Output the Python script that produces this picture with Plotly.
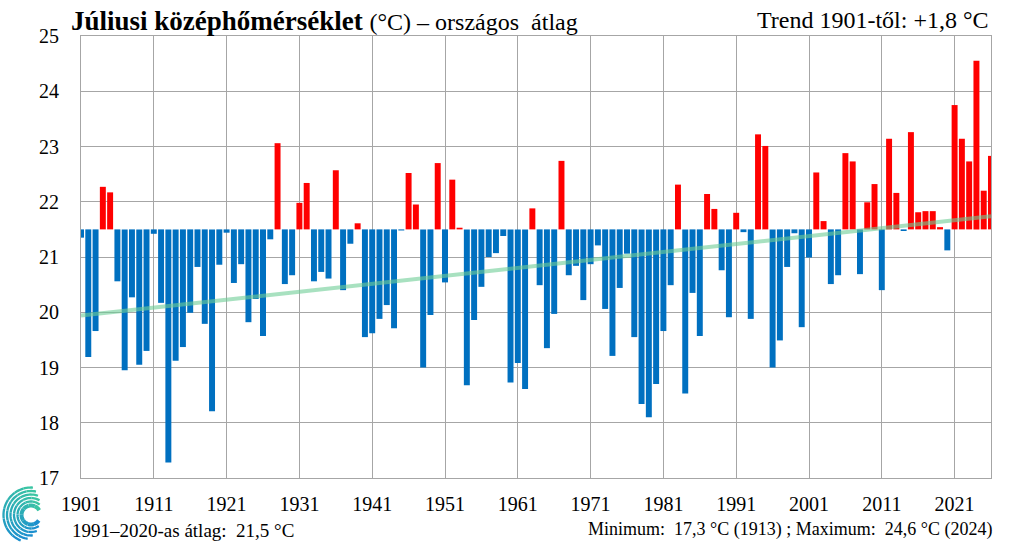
import math
import plotly.graph_objects as go

# ---- data -------------------------------------------------------------
years = list(range(1901, 2027))
july_mean = [
    21.35, 19.19, 19.66, 22.27, 22.17, 20.56, 18.95, 20.27, 19.05, 19.30,
    21.42, 20.17, 17.28, 19.12, 19.37, 19.99, 20.82, 19.79, 18.21, 20.86,
    21.44, 20.53, 20.87, 19.82, 20.24, 19.57, 21.32, 23.06, 20.51, 20.67,
    21.98, 22.34, 20.56, 20.73, 20.61, 22.57, 20.40, 21.24, 21.61, 19.55,
    19.62, 19.88, 20.13, 19.71, 21.48, 22.52, 21.95, 19.00, 19.95, 22.70,
    20.54, 22.40, 21.53, 18.68, 19.86, 20.46, 21.00, 21.07, 21.38, 18.73,
    19.08, 18.61, 21.88, 20.49, 19.35, 19.97, 22.74, 20.67, 20.84, 20.22,
    20.87, 21.21, 20.06, 19.21, 20.44, 21.06, 19.55, 18.34, 18.10, 18.70,
    19.66, 20.49, 22.31, 18.53, 20.35, 19.57, 22.14, 21.87, 20.76, 19.91,
    21.80, 21.45, 19.88, 23.22, 23.01, 19.00, 19.49, 20.82, 21.43, 19.73,
    20.99, 22.53, 21.65, 20.51, 20.67, 22.88, 22.73, 20.69, 21.99, 22.32,
    20.40, 23.14, 22.16, 21.47, 23.26, 21.81, 21.83, 21.83, 21.54, 21.12,
    23.75, 23.14, 22.73, 24.55, 22.20, 22.83,
]
baseline = 21.5
trend_years = [1901, 2026]
trend_values = [19.94, 21.74]
x_tick_years = list(range(1901, 2022, 10))
y_ticks = list(range(17, 26))

# ---- styling ----------------------------------------------------------
W, H = 1020, 549
L, R, T, B = 81, 29, 36, 71
FONT = "Liberation Serif"
RED, BLUE = "#ff0000", "#0070c0"
GRID = "#a6a6a6"

deltas = [v - baseline for v in july_mean]
colors = [RED if v > baseline else BLUE for v in july_mean]

fig = go.Figure()
fig.add_trace(go.Bar(
    x=years, y=deltas, base=baseline, width=0.82,
    marker=dict(color=colors, line=dict(width=0)),
    hoverinfo="skip", showlegend=False,
))
fig.add_trace(go.Scatter(
    x=trend_years, y=trend_values, mode="lines",
    line=dict(color="rgba(110,205,150,0.6)", width=4),
    hoverinfo="skip", showlegend=False,
))

pw, ph = W - L - R, H - T - B


def px(xp):
    return (xp - L) / pw


def py(yp):
    return (H - B - yp) / ph


annotations = [
    dict(x=px(69), y=py(21), xref="paper", yref="paper", xanchor="left", yanchor="middle",
         text="<b>Júliusi középhőmérséklet</b> <span style='font-size:24px'>(°C) – országos  átlag</span>",
         showarrow=False, font=dict(family=FONT, size=27, color="black")),
    dict(x=px(991), y=py(20), xref="paper", yref="paper", xanchor="right", yanchor="middle",
         text="Trend 1901-től: +1,8 °C", showarrow=False,
         font=dict(family=FONT, size=24, color="black")),
    dict(x=px(70), y=py(530), xref="paper", yref="paper", xanchor="left", yanchor="middle",
         text="1991–2020-as átlag:  21,5 °C", showarrow=False,
         font=dict(family=FONT, size=19, color="black")),
    dict(x=px(994), y=py(529), xref="paper", yref="paper", xanchor="right", yanchor="middle",
         text="Minimum:  17,3 °C (1913) ; Maximum:  24,6 °C (2024)", showarrow=False,
         font=dict(family=FONT, size=18, color="black")),
]

# ---- logo (decorative spiral arcs) -----------------------------------
shapes = []
cx, cy = 31, 515
arcs = [(9.5, 30, 325, 4), (13.5, 50, 305, 2.3), (17, 60, 290, 2.3),
        (20.5, 70, 275, 2.3), (24, 78, 262, 2.3), (27.5, 86, 248, 2.3)]


def mix(c1, c2, t):
    return "rgb(%d,%d,%d)" % tuple(int(a + (b - a) * t) for a, b in zip(c1, c2))


green, blue = (60, 200, 160), (25, 140, 210)
for r, a0, a1, lw in arcs:
    nseg = 8
    for s in range(nseg):
        s0 = a0 + (a1 - a0) * s / nseg
        s1 = a0 + (a1 - a0) * (s + 1) / nseg
        pts = []
        for k in range(7):
            a = math.radians(s0 + (s1 - s0) * k / 6)
            pts.append((px(cx + r * math.cos(a)), py(cy - r * math.sin(a))))
        path = "M " + " L ".join("%.5f,%.5f" % p for p in pts)
        t = (s + 0.5) / nseg
        shapes.append(dict(type="path", path=path, xref="paper", yref="paper",
                           line=dict(color=mix(green, blue, t), width=lw)))

fig.update_layout(
    width=W, height=H, autosize=False,
    margin=dict(l=L, r=R, t=T, b=B),
    paper_bgcolor="white", plot_bgcolor="white",
    bargap=0.18,
    annotations=annotations, shapes=shapes,
    font=dict(family=FONT, color="black"),
)
fig.update_xaxes(
    range=[1901, 2026], tickvals=x_tick_years, ticktext=[str(y) for y in x_tick_years],
    showgrid=True, gridcolor=GRID, gridwidth=1, zeroline=False,
    showline=True, mirror=True, linecolor=GRID, linewidth=1,
    ticks="", ticklabelstandoff=8, tickfont=dict(family=FONT, size=20, color="black"),
)
fig.update_yaxes(
    range=[17, 25], tickvals=y_ticks,
    showgrid=True, gridcolor=GRID, gridwidth=1, zeroline=False,
    showline=True, mirror=True, linecolor=GRID, linewidth=1,
    ticks="", ticklabelstandoff=17, tickfont=dict(family=FONT, size=20, color="black"),
)

# remove the default 8px body margin so the figure sits at the page origin
fig.write_html(
    "out.html",
    config={"displayModeBar": False, "staticPlot": True},
    post_script="document.body.style.margin='0';document.body.style.overflow='hidden';",
)
